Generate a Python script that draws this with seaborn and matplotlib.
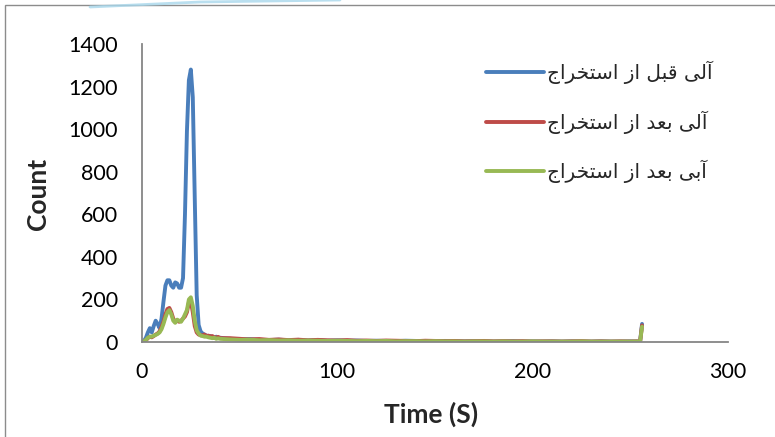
import numpy as np
import pandas as pd
import matplotlib
matplotlib.use("Agg")
import matplotlib.pyplot as plt
import matplotlib.patches as mpatches
import matplotlib.lines as mlines
import seaborn as sns

# Time axis (s): every second up to 40 s, then every 5 s, then the end spike
time_s = list(range(0, 41)) + list(range(45, 251, 5)) + [253, 255, 256]

# Counts
blue_counts = [0, 5, 20, 45, 65, 45, 75, 100, 85, 65,
               110, 190, 265, 290, 290, 265, 255, 280, 275, 255,
               255, 300, 600, 990, 1230, 1280, 1150, 680, 220, 80,
               50, 40, 35, 30, 25, 28, 22, 20, 25, 18,
               20,
               15, 12, 14, 10, 9, 11, 8, 10, 7, 9, 6, 8, 6, 7, 5, 6, 5, 4, 6, 5, 4,
               3, 5, 4, 3, 4, 3, 2, 3, 4, 2, 3, 2, 3, 2, 3, 2, 2, 3, 2, 2, 3,
               2, 3, 85]
red_counts = [0, 2, 8, 18, 25, 22, 28, 35, 40, 50,
              70, 95, 130, 155, 160, 140, 110, 95, 100, 95,
              100, 110, 120, 140, 185, 190, 140, 75, 45, 35,
              32, 30, 35, 28, 30, 25, 28, 22, 20, 24,
              18,
              18, 15, 12, 14, 10, 12, 9, 11, 8, 10, 8, 7, 9, 6, 7, 5, 7, 6, 5, 4, 6,
              5, 4, 5, 3, 4, 5, 3, 4, 3, 4, 2, 3, 3, 2, 3, 4, 2, 3, 2, 3, 2,
              3, 2, 78]
green_counts = [0, 3, 10, 20, 25, 25, 30, 33, 38, 45,
                60, 85, 115, 140, 150, 130, 100, 90, 105, 100,
                95, 110, 130, 150, 200, 210, 170, 100, 55, 40,
                30, 28, 25, 25, 22, 20, 18, 20, 15, 17,
                15,
                12, 10, 11, 8, 9, 7, 8, 6, 7, 6, 5, 6, 5, 4, 5, 4, 5, 3, 4, 4, 3,
                4, 3, 3, 2, 3, 3, 2, 3, 2, 2, 3, 2, 2, 2, 2, 3, 2, 2, 2, 2, 2,
                2, 2, 72]

series_names = ["آلی قبل از استخراج", "آلی بعد از استخراج", "آبی بعد از استخراج"]
series_colors = ["#4A7EBB", "#BE4B48", "#98B954"]
x_ticks = [0, 100, 200, 300]
y_ticks = [0, 200, 400, 600, 800, 1000, 1200, 1400]

# matplotlib has no Arabic shaping: pick contextual forms and put in visual order
FORMS = {  # isolated, final, initial, medial
    "آ": ("\uFE81", "\uFE82", None, None),
    "ا": ("\uFE8D", "\uFE8E", None, None),
    "ب": ("\uFE8F", "\uFE90", "\uFE91", "\uFE92"),
    "ت": ("\uFE95", "\uFE96", "\uFE97", "\uFE98"),
    "ج": ("\uFE9D", "\uFE9E", "\uFE9F", "\uFEA0"),
    "خ": ("\uFEA5", "\uFEA6", "\uFEA7", "\uFEA8"),
    "د": ("\uFEA9", "\uFEAA", None, None),
    "ر": ("\uFEAD", "\uFEAE", None, None),
    "ز": ("\uFEAF", "\uFEB0", None, None),
    "س": ("\uFEB1", "\uFEB2", "\uFEB3", "\uFEB4"),
    "ع": ("\uFEC9", "\uFECA", "\uFECB", "\uFECC"),
    "ق": ("\uFED5", "\uFED6", "\uFED7", "\uFED8"),
    "ل": ("\uFEDD", "\uFEDE", "\uFEDF", "\uFEE0"),
    "ی": ("\uFEEF", "\uFEF0", "\uFEF3", "\uFEF4"),
}


def shape(text):
    out = []
    for i, ch in enumerate(text):
        if ch not in FORMS:
            out.append(ch)
            continue
        iso, fin, ini, med = FORMS[ch]
        prev = text[i - 1] if i > 0 else ""
        nxt = text[i + 1] if i + 1 < len(text) else ""
        join_prev = prev in FORMS and FORMS[prev][2] is not None
        join_next = nxt in FORMS and ini is not None
        if join_prev and join_next:
            out.append(med)
        elif join_prev:
            out.append(fin)
        elif join_next:
            out.append(ini)
        else:
            out.append(iso)
    return "".join(reversed(out))


# long table for seaborn
dados = pd.DataFrame({
    "Time": time_s * 3,
    "Count": blue_counts + red_counts + green_counts,
    "Serie": [series_names[0]] * len(time_s) + [series_names[1]] * len(time_s)
             + [series_names[2]] * len(time_s),
})

sns.set_style("white")
plt.rcParams["font.family"] = ["Lato", "DejaVu Sans"]

fig = plt.figure(figsize=(7.75, 4.37), dpi=100)
ax = fig.add_axes([142 / 775, 1 - 342 / 437, 586 / 775, 298 / 437])

sns.lineplot(data=dados, x="Time", y="Count", hue="Serie", palette=series_colors,
             hue_order=series_names, linewidth=2.8, ax=ax, legend=False,
             solid_capstyle="round", solid_joinstyle="round")

ax.set_xlim(0, 300)
ax.set_ylim(0, 1400)
ax.set_xticks(x_ticks)
ax.set_yticks(y_ticks)
ax.tick_params(axis="both", direction="out", length=4.5, width=1.3, color="#868686",
               labelsize=15.5, labelcolor="black")
ax.tick_params(axis="y", pad=13)
ax.tick_params(axis="x", pad=10)
for side in ["top", "right"]:
    ax.spines[side].set_visible(False)
for side in ["left", "bottom"]:
    ax.spines[side].set_color("#868686")
    ax.spines[side].set_linewidth(1.3)

ax.set_xlabel("Time (S)", fontsize=19, fontweight="bold")
ax.set_ylabel("Count", fontsize=19, fontweight="bold")
ax.xaxis.set_label_coords((431 - 142) / 586, (342 - 402) / 298)
ax.yaxis.set_label_coords((50 - 142) / 586, (342 - 194) / 298)

# legend on the right, RTL labels
handles = [mlines.Line2D([], [], color=c, linewidth=2.8, solid_capstyle="round")
           for c in series_colors]
ax.legend(handles, [shape(s) for s in series_names], loc="upper left",
          bbox_to_anchor=(486 / 775, 1 - 61 / 437), bbox_transform=fig.transFigure,
          frameon=False, borderpad=0, borderaxespad=0, handlelength=2.9,
          handletextpad=0.12, labelspacing=1.3,
          prop={"family": "DejaVu Sans", "size": 14.5})

# outer chart frame and the faint decoration at the top
fig.add_artist(mpatches.Rectangle((5 / 775, -0.1), 1.2, 1.1 - 5 / 437,
                                  transform=fig.transFigure, fill=False,
                                  edgecolor="#8c8c8c", linewidth=1))
fig.add_artist(mlines.Line2D([90 / 775, 200 / 775, 340 / 775],
                             [1 - 7 / 437, 1 - 2 / 437, 1 - 0 / 437],
                             transform=fig.transFigure, color="#a9d8ec",
                             linewidth=2, alpha=0.8))

fig.savefig("out.png", dpi=100)
